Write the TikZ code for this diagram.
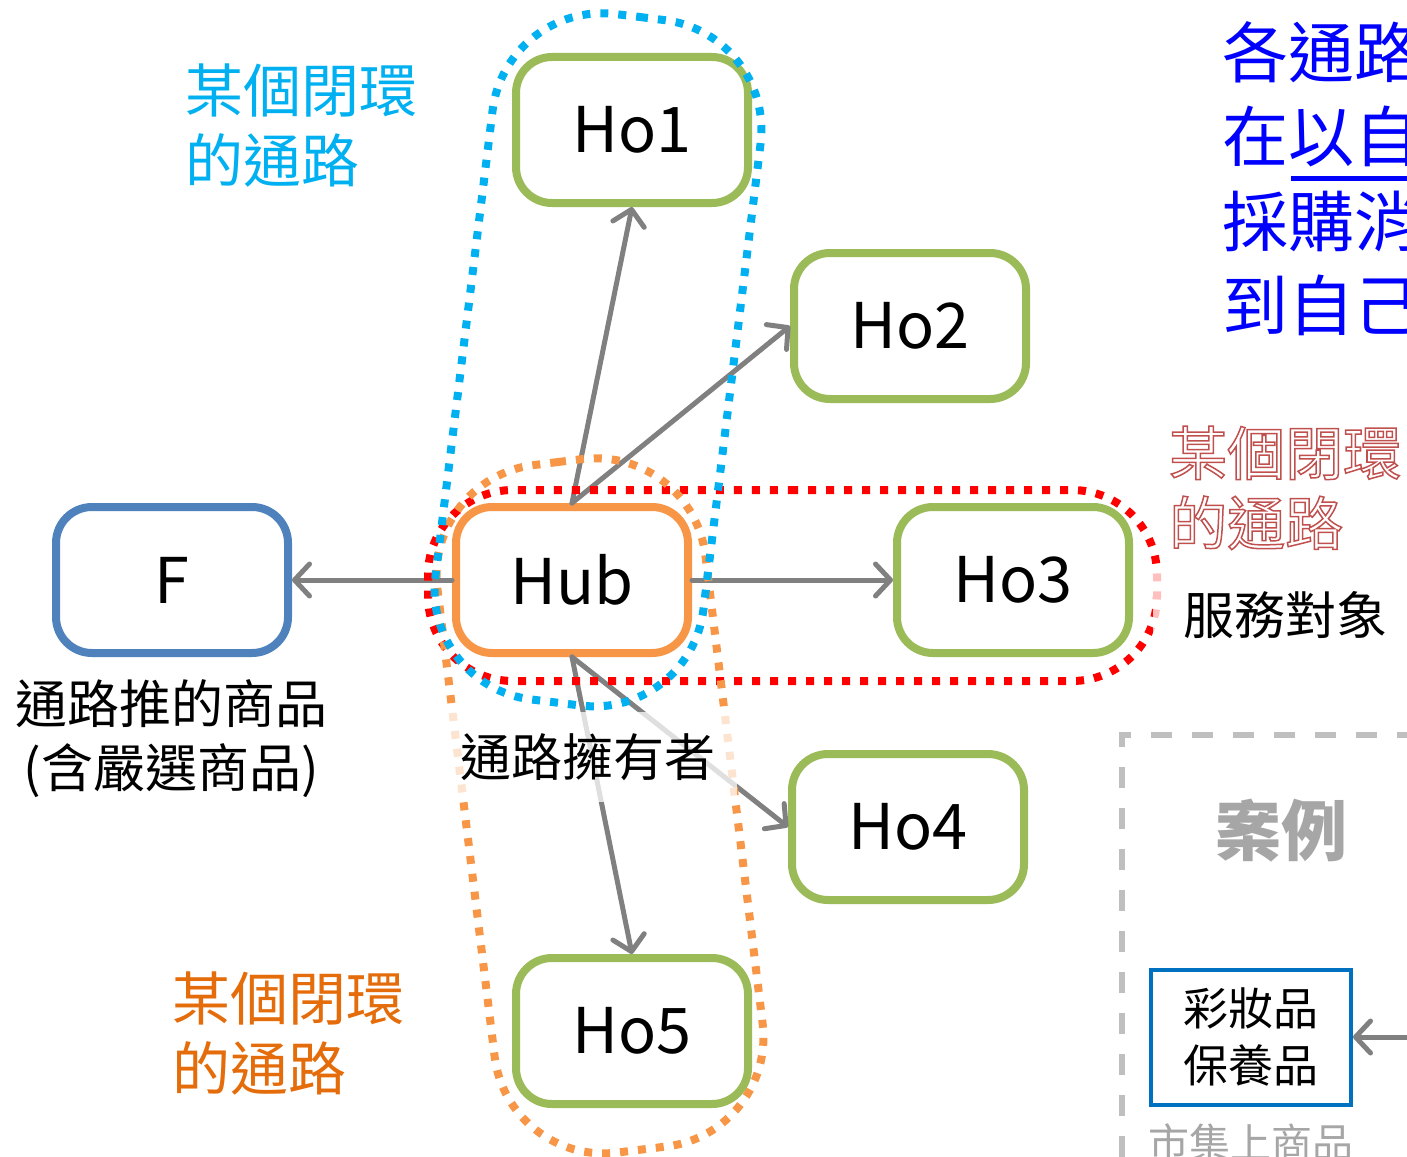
\documentclass[tikz,border=0pt]{standalone}
\usepackage{fontspec}
\setmainfont{Noto Sans CJK TC}
\usetikzlibrary{arrows.meta}

\definecolor{hogreen}{HTML}{9BBB59}
\definecolor{huborange}{HTML}{F79646}
\definecolor{fblue}{HTML}{4F81BD}
\definecolor{ringcyan}{HTML}{00B0F0}
\definecolor{ringorange}{HTML}{F79646}
\definecolor{ringred}{HTML}{FF0000}
\definecolor{noteorange}{HTML}{E46C0A}
\definecolor{notered}{HTML}{C0504D}
\definecolor{notegray}{HTML}{A6A6A6}
\definecolor{boxblue}{HTML}{0070C0}
\definecolor{framegray}{HTML}{BFBFBF}

% hollow (stroked) letters
\newcommand{\outlinetext}[1]{\special{pdf:literal 1 Tr 1.5 w}#1\special{pdf:literal 0 Tr}}

\begin{document}
\begin{tikzpicture}[x=1pt,y=-1pt,
  hobox/.style={draw=hogreen, line width=8pt, rounded corners=36pt, fill=white,
    minimum width=232pt, minimum height=146pt, font=\fontsize{63}{70}\selectfont},
  hubbox/.style={hobox, draw=huborange},
  fnode/.style={hobox, draw=fblue},
  flow/.style={draw=gray, line width=5pt, line cap=round,
    -{Straight Barb[length=15pt,width=32pt,line cap=round,round]}},
  ringline/.style={line width=8pt, dash pattern=on 8pt off 10pt},
  cjktext/.style={align=left, inner sep=0pt},
  veil/.style={fill=white, fill opacity=0.75, text opacity=1}]
  \useasboundingbox (0,0) rectangle (1407,1156);
  \clip (0,0) rectangle (1407,1156);

  % channel nodes
  \node[hobox] (ho1) at (632,130) {Ho1};
  \node[hobox] (ho2) at (910,326) {Ho2};
  \node[hubbox] (hub) at (572,580) {Hub};
  \node[fnode] (f) at (172,580) {F};
  \node[hobox] (ho3) at (1013,580) {Ho3};
  \node[hobox] (ho4) at (908,827) {Ho4};
  \node[hobox] (ho5) at (632,1031) {Ho5};

  \draw[flow] (hub.west) -- (f.east);
  \draw[flow] (hub.north) -- (ho1.south);
  \draw[flow] (hub.north) -- (ho2.west);
  \draw[flow] (hub.east) -- (ho3.west);
  \draw[flow] (hub.south) -- (ho4.west);
  \draw[flow] (hub.south) -- (ho5.north);

  % closed loops
  \draw[ringline, draw=ringred, rounded corners=85pt]
    (790,490) -- (1157,490) -- (1157,681) -- (428,681) -- (428,490) -- (790,490);
  \draw[ringline, draw=ringorange, rounded corners=110pt]
    (558,462) -- (692,446) -- (776,1133) -- (508,1166) -- (424,479) -- (558,462);
  \draw[ringline, draw=ringcyan, rounded corners=110pt]
    (640,17) -- (774,34) -- (690,719) -- (422,686) -- (506,1) -- (640,17);

  % texts
  \node[cjktext, text=ringcyan, anchor=north west, font=\fontsize{58}{70}\selectfont]
    (cyannote) at (185,64) {某個閉環\\的通路};
  \node[cjktext, text=noteorange, anchor=north west, font=\fontsize{58}{70}\selectfont]
    (orangenote) at (172,972) {某個閉環\\的通路};
  \node[cjktext, text=notered, anchor=north west, font=\fontsize{58}{70}\selectfont]
    (rednote) at (1169,426) {\outlinetext{某個閉環\\的通路}};
  \node[cjktext, text=blue, anchor=north west, font=\fontsize{66}{84.5}\selectfont]
    (bluenote) at (1222,21) {各通路\\在以自\\採購消\\到自己};
  \draw[blue, line width=5pt] (1291,178) -- (1420,178);

  \node[veil, inner xsep=30pt, inner ysep=18pt, font=\fontsize{51}{60}\selectfont]
    (target) at (1285,615) {服務對象};
  \node[veil, inner xsep=21pt, inner ysep=21pt, font=\fontsize{51}{60}\selectfont]
    (owner) at (588,757) {通路擁有者};
  \node[align=center, anchor=north, inner sep=0pt, font=\fontsize{52}{64}\selectfont]
    (goods) at (171,679) {通路推的商品\\(含嚴選商品)};

  % case frame
  \draw[framegray, line width=6pt, dash pattern=on 21pt off 20pt] (1500,735) -| (1122,1250);
  \node[text=notegray, font=\fontsize{66}{70}\selectfont\bfseries] (case) at (1281,831) {案例};
  \node[draw=boxblue, line width=4pt, fill=white, minimum width=200pt, minimum height=135pt,
    align=center, font=\fontsize{45}{57}\selectfont] (beauty) at (1251,1037) {彩妝品\\保養品};
  \coordinate (market) at (1430,1037);
  \draw[flow] (market) -- (beauty.east);
  \node[text=notegray, anchor=north west, inner sep=0pt, font=\fontsize{41}{50}\selectfont]
    (marketnote) at (1148,1124) {市集上商品};
\end{tikzpicture}
\end{document}
